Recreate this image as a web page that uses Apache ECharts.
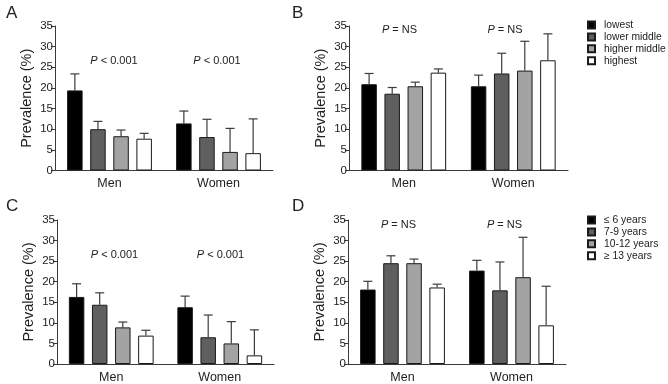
<!DOCTYPE html>
<html>
<head>
<meta charset="utf-8">
<script src="https://cdn.jsdelivr.net/npm/echarts@6/dist/echarts.min.js"></script>
<style>
html,body{margin:0;padding:0;background:#fff;}
#chart{width:668px;height:384px;}
</style>
</head>
<body>
<div id="chart"></div>
<script>
// ---------------- data ----------------
const categories = ['Men', 'Women'];
const incomeLevels = ['lowest', 'lower middle', 'higher middle', 'highest'];
const eduLevels = ['\u2264 6 years', '7-9 years', '10-12 years', '\u2265 13 years'];
const yTicks = [0, 5, 10, 15, 20, 25, 30, 35];

// values per level: [Men, Women]
const panelA_values = [[19.4, 11.4], [10.0, 8.1], [8.3, 4.5], [7.7, 4.2]];
const panelA_upper  = [[23.4, 14.4], [11.9, 12.4], [9.8, 10.2], [9.0, 12.5]];
const panelB_values = [[20.9, 20.4], [18.6, 23.5], [20.4, 24.2], [23.7, 26.7]];
const panelB_upper  = [[23.5, 23.1], [20.1, 28.4], [21.4, 31.3], [24.6, 33.1]];
const panelC_values = [[16.3, 13.8], [14.4, 6.5], [8.9, 5.0], [6.9, 2.1]];
const panelC_upper  = [[19.5, 16.5], [17.3, 11.9], [10.2, 10.3], [8.2, 8.3]];
const panelD_values = [[18.1, 22.7], [24.5, 17.9], [24.5, 21.1], [18.6, 9.4]];
const panelD_upper  = [[20.1, 25.2], [26.3, 24.8], [25.5, 30.8], [19.4, 18.9]];

const pLabelsA = ['< 0.001', '< 0.001'];
const pLabelsB = ['= NS', '= NS'];
const pLabelsC = ['< 0.001', '< 0.001'];
const pLabelsD = ['= NS', '= NS'];
const panelLetters = ['A', 'B', 'C', 'D'];

// ---------------- styling ----------------
const FONT = '"Liberation Sans", Arial, sans-serif';
const barColors = ['#000000', '#5f5f5f', '#a3a3a3', '#ffffff'];
const BAR_W = 15.5;
const BAR_GAP = 0.49;
const STEP = BAR_W * (1 + BAR_GAP);
const axisColor = '#3a3a3a';

const grids = [
  {left: 55, top: 26, width: 218, height: 144.5},
  {left: 349, top: 26, width: 219, height: 144.5},
  {left: 57, top: 220, width: 217, height: 144.5},
  {left: 348, top: 220, width: 218, height: 144.5}
];

const panels = [
  {values: panelA_values, upper: panelA_upper, names: incomeLevels},
  {values: panelB_values, upper: panelB_upper, names: incomeLevels},
  {values: panelC_values, upper: panelC_upper, names: eduLevels},
  {values: panelD_values, upper: panelD_upper, names: eduLevels}
];

const xAxes = [], yAxes = [], series = [];
panels.forEach((p, gi) => {
  xAxes.push({
    type: 'category', gridIndex: gi, data: categories,
    axisLine: {lineStyle: {color: axisColor, width: 1}},
    axisTick: {show: false},
    axisLabel: {fontFamily: FONT, fontSize: 12.5, color: '#222', margin: 7}
  });
  yAxes.push({
    type: 'value', gridIndex: gi, min: 0, max: 35, interval: 5,
    name: 'Prevalence (%)', nameLocation: 'middle', nameGap: 21,
    nameTextStyle: {fontFamily: FONT, fontSize: 14.5, color: '#222'},
    axisLine: {show: true, lineStyle: {color: axisColor, width: 1}},
    axisTick: {show: true, length: 4, lineStyle: {color: axisColor}},
    axisLabel: {fontFamily: FONT, fontSize: 11.5, color: '#222', margin: 2},
    splitLine: {show: false}
  });
  p.names.forEach((nm, si) => {
    series.push({
      type: 'bar', name: nm, xAxisIndex: gi, yAxisIndex: gi,
      data: p.values[si], barWidth: BAR_W, barGap: (BAR_GAP * 100) + '%',
      itemStyle: {color: barColors[si], borderColor: '#1a1a1a', borderWidth: 1},
      z: 3
    });
  });
  const errData = [];
  p.names.forEach((nm, si) => {
    categories.forEach((c, ci) => {
      errData.push([ci, p.values[si][ci], p.upper[si][ci], si]);
    });
  });
  series.push({
    type: 'custom', xAxisIndex: gi, yAxisIndex: gi, data: errData, z: 2,
    silent: true,
    renderItem: function (params, api) {
      const base = api.coord([api.value(0), api.value(1)]);
      const top = api.coord([api.value(0), api.value(2)]);
      const x = base[0] + (api.value(3) - 1.5) * STEP;
      const style = {stroke: '#3c3c3c', lineWidth: 1.2};
      return {
        type: 'group',
        children: [
          {type: 'line', shape: {x1: x, y1: base[1], x2: x, y2: top[1]}, style: style},
          {type: 'line', shape: {x1: x - 4.5, y1: top[1], x2: x + 4.5, y2: top[1]}, style: style}
        ]
      };
    }
  });
});

function pText(txt, cx, cy) {
  return {
    type: 'text', x: cx, y: cy,
    style: {
      text: '{i|P} ' + txt,
      rich: {i: {fontStyle: 'italic', fontFamily: FONT, fontSize: 11, fill: '#222'}},
      font: '11px ' + FONT, fill: '#222', align: 'center', verticalAlign: 'middle'
    }
  };
}
function letter(t, x, y) {
  return {type: 'text', x: x, y: y, style: {text: t, font: '17px ' + FONT, fill: '#222'}};
}

const graphics = [
  letter(panelLetters[0], 6, 5), letter(panelLetters[1], 292, 5),
  letter(panelLetters[2], 6, 198), letter(panelLetters[3], 292, 198),
  pText(pLabelsA[0], 114, 61), pText(pLabelsA[1], 217, 61),
  pText(pLabelsB[0], 399.5, 30), pText(pLabelsB[1], 505, 30),
  pText(pLabelsC[0], 114.5, 255), pText(pLabelsC[1], 220.5, 255),
  pText(pLabelsD[0], 398.5, 225), pText(pLabelsD[1], 504.5, 225)
];

const legendCommon = {
  orient: 'vertical', itemWidth: 7, itemHeight: 7, itemGap: 1.9,
  icon: 'rect', selectedMode: false,
  textStyle: {fontFamily: FONT, fontSize: 10.3, color: '#222', padding: [0, 0, 0, 4]}
};

const chart = echarts.init(document.getElementById('chart'), null, {renderer: 'canvas'});
chart.setOption({
  animation: false,
  backgroundColor: '#ffffff',
  grid: grids,
  xAxis: xAxes,
  yAxis: yAxes,
  series: series,
  legend: [
    Object.assign({}, legendCommon, {data: incomeLevels, left: 582, top: 15}),
    Object.assign({}, legendCommon, {data: eduLevels, left: 582, top: 210})
  ],
  graphic: graphics
});
</script>
</body>
</html>
